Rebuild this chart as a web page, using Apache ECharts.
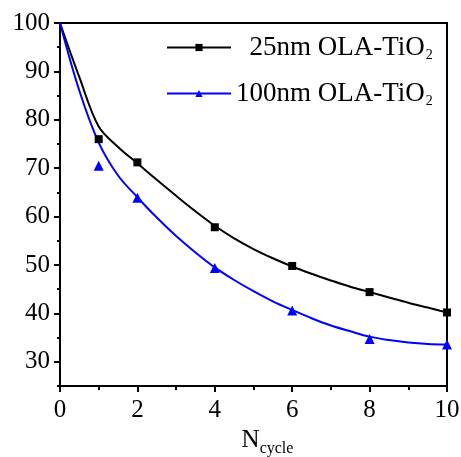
<!DOCTYPE html>
<html>
<head>
<meta charset="utf-8">
<script src="https://cdn.jsdelivr.net/npm/echarts@6/dist/echarts.min.js"></script>
<style>
  html, body { margin: 0; padding: 0; background: #fff; }
  #main { width: 461px; height: 457px; }
</style>
</head>
<body>
<div id="main"></div>
<script>
// measured points
var cycles = [1, 2, 4, 6, 8, 10]
var nm25 = [76.0, 71.2, 57.8, 49.8, 44.4, 40.2]
var nm100 = [70.5, 63.9, 49.4, 40.6, 34.7, 33.6]

// fitted curves (every half cycle)
var fitX = [0, 0.5, 1, 1.5, 2, 2.5, 3, 3.5, 4, 4.5, 5, 5.5, 6, 6.5, 7, 7.5, 8, 8.5, 9, 9.5, 10]
var fit25 = [100, 88.8, 78.6, 74.4, 71.0, 67.6, 64.3, 61.1, 58.1, 55.5, 53.3, 51.4, 49.7, 48.2, 46.8, 45.5, 44.4, 43.3, 42.2, 41.2, 40.2]
var fit100 = [100, 86.0, 75.3, 68.5, 64.0, 59.8, 56.0, 52.6, 49.5, 46.9, 44.6, 42.5, 40.7, 39.0, 37.5, 36.3, 35.2, 34.5, 34.0, 33.7, 33.6]

var yLabels = [30, 40, 50, 60, 70, 80, 90, 100]
var names = ['25nm OLA-TiO2', '100nm OLA-TiO2']

function pairs(xs, ys) {
  return xs.map(function (x, i) { return [x, ys[i]] })
}

var font = 'Liberation Serif'
var chart = echarts.init(document.getElementById('main'))

chart.setOption({
  animation: false,
  backgroundColor: '#fff',
  textStyle: { fontFamily: font, color: '#000' },
  grid: {
    left: 60, right: 14, top: 23, bottom: 71,
    outerBoundsMode: 'none',
    containLabel: false,
    show: true, borderColor: '#000', borderWidth: 2
  },
  legend: {
    data: names,
    orient: 'vertical',
    left: 161,
    top: 29,
    itemWidth: 64,
    itemHeight: 9,
    itemGap: 18,
    textStyle: {
      fontFamily: font, fontSize: 27, color: '#000',
      rich: {
        sub: { fontFamily: font, fontSize: 14, verticalAlign: 'bottom', padding: [15, 0, 0, 1] }
      }
    },
    formatter: function (name) {
      var txt = name.slice(0, -1) + '{sub|2}'
      return name.indexOf('25nm') === 0 ? '  ' + txt : txt
    }
  },
  xAxis: {
    type: 'value',
    min: 0, max: 10, interval: 2,
    name: '{n|N}{s|cycle}',
    nameLocation: 'middle',
    nameGap: 38,
    nameTextStyle: {
      rich: {
        n: { fontFamily: font, fontSize: 25, color: '#000', padding: [0, 0, 0, 28] },
        s: { fontFamily: font, fontSize: 16, color: '#000', verticalAlign: 'bottom', padding: [17, 0, 0, 0] }
      }
    },
    axisLine: { lineStyle: { color: '#000', width: 2 } },
    axisTick: { inside: false, length: 6, lineStyle: { color: '#000', width: 2 } },
    minorTick: { show: true, splitNumber: 2, length: 4, lineStyle: { color: '#000', width: 2 } },
    axisLabel: { fontFamily: font, fontSize: 25, color: '#000', margin: 12 },
    splitLine: { show: false }
  },
  yAxis: [{
    type: 'value',
    min: 25, max: 100,
    axisLine: { show: true, lineStyle: { color: '#000', width: 2 } },
    axisTick: { inside: false, length: 6, customValues: yLabels, lineStyle: { color: '#000', width: 2 } },
    axisLabel: { fontFamily: font, fontSize: 25, color: '#000', margin: 10, customValues: yLabels },
    splitLine: { show: false }
  }, {
    // minor ticks every 5
    type: 'value',
    position: 'left',
    min: 25, max: 100, interval: 5,
    axisLine: { show: false },
    axisTick: { inside: false, length: 3, lineStyle: { color: '#000', width: 2 } },
    axisLabel: { show: false },
    splitLine: { show: false }
  }],
  series: [{
    name: names[0],
    type: 'line',
    smooth: 0.35,
    data: pairs(fitX, fit25),
    symbol: 'rect',
    symbolSize: 8,
    showSymbol: false,
    itemStyle: { color: '#000' },
    lineStyle: { color: '#000', width: 2 },
    z: 3
  }, {
    name: names[1],
    type: 'line',
    smooth: 0.35,
    data: pairs(fitX, fit100),
    symbol: 'triangle',
    symbolSize: 9,
    showSymbol: false,
    itemStyle: { color: '#0000ff' },
    lineStyle: { color: '#0000ff', width: 2 },
    z: 3
  }, {
    name: 'pts25',
    type: 'scatter',
    data: pairs(cycles, nm25),
    symbol: 'rect',
    symbolSize: 8,
    itemStyle: { color: '#000', opacity: 1 },
    z: 4
  }, {
    name: 'pts100',
    type: 'scatter',
    data: pairs(cycles, nm100),
    symbol: 'triangle',
    symbolSize: 10,
    itemStyle: { color: '#0000ff', opacity: 1 },
    z: 4
  }]
})
</script>
</body>
</html>
